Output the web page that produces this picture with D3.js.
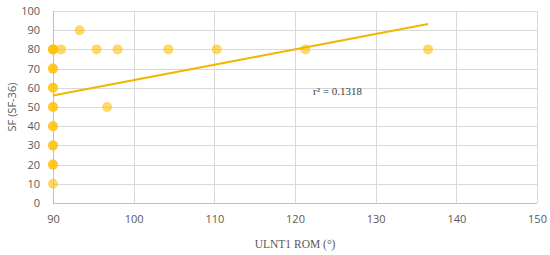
<!DOCTYPE html>
<html>
<head>
<meta charset="utf-8">
<script src="https://cdn.jsdelivr.net/npm/d3@7.9.0/dist/d3.min.js"></script>
<style>
  body { margin: 0; background: #fff; }
  svg { display: block; }
</style>
</head>
<body>
<svg id="chart" width="550" height="255"></svg>
<script>
// ULNT1 ROM (x) vs SF (SF-36) (y)
let romValues = [90, 90, 90, 90, 90, 90, 90, 90, 90, 90, 90, 90, 90, 90, 90, 90,
  91, 93.3, 95.4, 96.7, 98, 104.3, 110.3, 121.3, 136.5];
let sfValues = [10, 20, 20, 30, 30, 40, 40, 50, 50, 60, 60, 70, 70, 80, 80, 80,
  80, 90, 80, 50, 80, 80, 80, 80, 80];

let xTicks = [90, 100, 110, 120, 130, 140, 150];
let yTicks = [0, 10, 20, 30, 40, 50, 60, 70, 80, 90, 100];

// linear trend line (as fitted in the source)
let trendSlope = [0.8];
let trendIntercept = [-16];
let rSquaredLabel = 'r² = 0.1318';

let svg = d3.select('#chart');

let margin = { left: 53, right: 13, top: 11, bottom: 52 };
let width = 550, height = 255;

let x = d3.scaleLinear().domain([90, 150]).range([margin.left, width - margin.right]);
let y = d3.scaleLinear().domain([0, 100]).range([height - margin.bottom, margin.top]);

// ----------- grid -----------
let grid = svg.append('g').attr('stroke', '#d9d9d9').attr('stroke-width', 1);
yTicks.forEach(t => {
  grid.append('line')
    .attr('x1', x(90)).attr('x2', x(150))
    .attr('y1', Math.round(y(t)) + 0.5).attr('y2', Math.round(y(t)) + 0.5);
});
xTicks.forEach(t => {
  grid.append('line')
    .attr('x1', Math.round(x(t)) + 0.5).attr('x2', Math.round(x(t)) + 0.5)
    .attr('y1', y(0)).attr('y2', y(100));
});

// axis lines
svg.append('line')
  .attr('x1', Math.round(x(90)) + 0.5).attr('x2', Math.round(x(90)) + 0.5)
  .attr('y1', y(0)).attr('y2', y(100))
  .attr('stroke', '#bfbfbf');
svg.append('line')
  .attr('x1', x(90)).attr('x2', x(150))
  .attr('y1', Math.round(y(0)) + 0.5).attr('y2', Math.round(y(0)) + 0.5)
  .attr('stroke', '#bfbfbf');

// ----------- tick labels -----------
let yAxis = d3.axisLeft(y).tickValues(yTicks).tickSize(0).tickPadding(13);
svg.append('g')
  .attr('transform', `translate(${x(90)},0)`)
  .call(yAxis)
  .call(g => g.select('.domain').remove())
  .call(g => g.selectAll('text')
    .attr('fill', '#595959')
    .style('font-family', '"Open Sans", "Liberation Sans", sans-serif')
    .style('font-size', '11px'));

let xAxis = d3.axisBottom(x).tickValues(xTicks).tickSize(0).tickPadding(12);
svg.append('g')
  .attr('transform', `translate(0,${y(0)})`)
  .call(xAxis)
  .call(g => g.select('.domain').remove())
  .call(g => g.selectAll('text')
    .attr('fill', '#595959')
    .style('font-family', '"Open Sans", "Liberation Sans", sans-serif')
    .style('font-size', '11px'));

// ----------- axis titles -----------
svg.append('text')
  .attr('x', (x(90) + x(150)) / 2)
  .attr('y', 248)
  .attr('text-anchor', 'middle')
  .attr('fill', '#595959')
  .style('font-family', '"Liberation Serif", serif')
  .style('font-size', '11.5px')
  .text('ULNT1 ROM (°)');

svg.append('text')
  .attr('transform', `translate(16,${(y(0) + y(100)) / 2}) rotate(-90)`)
  .attr('text-anchor', 'middle')
  .attr('fill', '#595959')
  .style('font-family', '"Open Sans", "Liberation Sans", sans-serif')
  .style('font-size', '11px')
  .text('SF (SF-36)');

// ----------- points -----------
let points = romValues.map((v, i) => ({ rom: v, sf: sfValues[i] }));
svg.append('g')
  .selectAll('circle')
  .data(points)
  .join('circle')
  .attr('cx', d => x(d.rom))
  .attr('cy', d => y(d.sf))
  .attr('r', 5)
  .attr('fill', '#ffc000')
  .attr('fill-opacity', 0.6);

// ----------- trend line -----------
let xMin = d3.min(romValues), xMax = d3.max(romValues);
let trend = [xMin, xMax].map(v => [x(v), y(trendIntercept[0] + trendSlope[0] * v)]);
svg.append('path')
  .attr('d', d3.line()(trend))
  .attr('stroke', '#f2b600')
  .attr('stroke-width', 2)
  .attr('fill', 'none');

svg.append('text')
  .attr('x', 313)
  .attr('y', 95)
  .attr('fill', '#404040')
  .style('font-family', '"Liberation Serif", serif')
  .style('font-size', '11px')
  .text(rSquaredLabel);
</script>
</body>
</html>
